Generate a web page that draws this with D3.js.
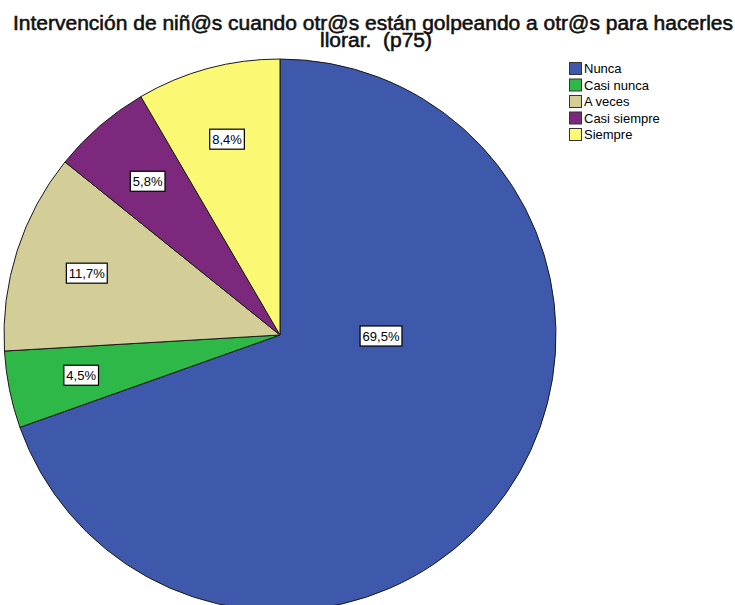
<!DOCTYPE html>
<html><head><meta charset="utf-8">
<script src="https://cdn.jsdelivr.net/npm/d3@7"></script>
<style>body{margin:0;background:#fff}svg{display:block}</style>
</head><body>
<script>
const categories = ["Nunca","Casi nunca","A veces","Casi siempre","Siempre"];
const values = [69.5, 4.5, 11.7, 5.8, 8.4];
const labels = ["69,5%","4,5%","11,7%","5,8%","8,4%"];
const colors = ["#3E58AC","#2EB848","#D3CE97","#7C287D","#FBF873"];
const titleLines = ["Intervención de niñ@s cuando otr@s están golpeando a otr@s para hacerles","llorar.  (p75)"];

const W=735,H=605;
const svg=d3.select("body").append("svg").attr("width",W).attr("height",H);
const cx=280, cy=335, r=276;
const font="Arial, 'Liberation Sans', sans-serif";

const t = svg.append("g");
const t1 = t.append("text").attr("x",373).attr("y",30).attr("text-anchor","middle")
  .attr("font-family",font).attr("font-size",19.5).attr("fill","#111")
  .attr("stroke","#111").attr("stroke-width",0.55)
  .style("white-space","pre").text(titleLines[0]);
const t2 = t.append("text").attr("x",376).attr("y",47).attr("text-anchor","middle")
  .attr("font-family",font).attr("font-size",19.5).attr("fill","#111")
  .attr("stroke","#111").attr("stroke-width",0.55)
  .style("white-space","pre").text(titleLines[1]);
const w1=t1.node().getComputedTextLength();
const k = 720 / w1;
t1.attr("textLength",720).attr("lengthAdjust","spacingAndGlyphs");
const w2=t2.node().getComputedTextLength();
t2.attr("textLength",w2*k).attr("lengthAdjust","spacingAndGlyphs");

const pie=d3.pie().sort(null).value(d=>d)(values);
const arc=d3.arc().innerRadius(0).outerRadius(r);
const g=svg.append("g").attr("transform",`translate(${cx},${cy})`);
g.selectAll("path").data(pie).join("path").attr("d",arc)
  .attr("fill",(d,i)=>colors[i]).attr("stroke","#1a1a1a").attr("stroke-width",1);

const lab=g.selectAll("g.l").data(pie).join("g").attr("class","l")
  .attr("transform",d=>{
    let p;
    if (d.endAngle-d.startAngle > Math.PI) { p=[r*0.366, 1]; }
    else { p=d3.arc().innerRadius(r*0.735).outerRadius(r*0.735).centroid(d); }
    return `translate(${p[0]},${p[1]})`;
  });
lab.each(function(d,i){
  const s=d3.select(this);
  const tx=s.append("text").attr("text-anchor","middle").attr("dy","0.36em")
    .attr("font-family",font).attr("font-size",13).attr("fill","#000").text(labels[i]);
  const w=tx.node().getComputedTextLength();
  s.insert("rect","text").attr("x",-w/2-2.5).attr("y",-10).attr("width",w+5).attr("height",20)
    .attr("fill","#fff").attr("stroke","#000").attr("stroke-width",1.2);
});

const leg=svg.append("g").attr("transform","translate(569,62)");
categories.forEach((c,i)=>{
  const y=i*16.5;
  leg.append("rect").attr("x",0.5).attr("y",y+0.5).attr("width",12).attr("height",12)
    .attr("fill",colors[i]).attr("stroke","#333").attr("stroke-width",1);
  leg.append("text").attr("x",15).attr("y",y+6.5).attr("dy","0.35em")
    .attr("font-family",font).attr("font-size",13).attr("fill","#000").text(c);
});
</script>
</body></html>
